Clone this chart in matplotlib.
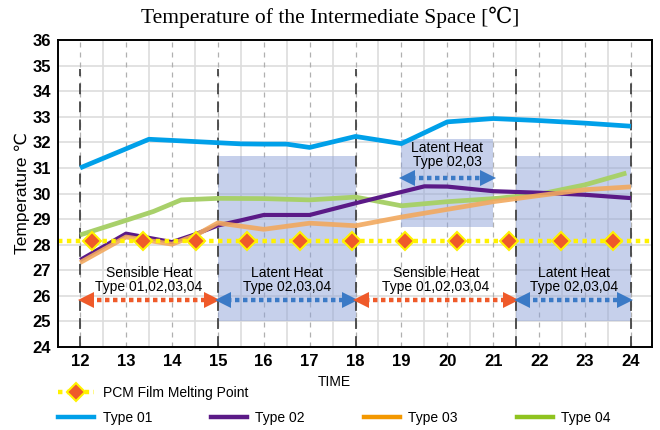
import numpy as np
import matplotlib
matplotlib.use("Agg")
import matplotlib.pyplot as plt
from matplotlib.lines import Line2D

plt.rcParams["font.family"] = ["Liberation Sans", "DejaVu Sans"]

# data
t01 = [12, 13.5, 14.5, 15.5, 16, 16.5, 17, 18, 19, 20, 21, 22, 23, 24]
type01 = [31.0, 32.12, 32.03, 31.94, 31.93, 31.93, 31.8, 32.23, 31.95, 32.8, 32.93, 32.85, 32.75, 32.63]

t02 = [12, 13, 14, 14.5, 15, 15.5, 16, 17, 18, 19.5, 20, 21, 22, 23, 24]
type02 = [27.4, 28.43, 28.1, 28.4, 28.75, 28.95, 29.16, 29.16, 29.62, 30.28, 30.27, 30.09, 30.03, 29.95, 29.82]

t03 = [12, 13, 14, 14.5, 15, 16, 17, 18, 19, 20, 21, 22, 23, 24]
type03 = [27.3, 28.3, 28.02, 28.35, 28.85, 28.6, 28.84, 28.74, 29.08, 29.38, 29.68, 29.92, 30.15, 30.26]

t04 = [12, 13, 13.6, 14.2, 15, 16, 17, 18, 19, 20, 21, 22, 23, 23.9]
type04 = [28.38, 28.95, 29.3, 29.75, 29.81, 29.8, 29.75, 29.86, 29.52, 29.68, 29.8, 29.97, 30.34, 30.8]

melt_point = 28.15
melt_marks = [12.25, 13.37, 14.53, 15.64, 16.79, 17.93, 19.08, 20.21, 21.35, 22.48, 23.61]

# phases: (start, end, label)
phases = [(12, 15, "Sensible Heat\nType 01,02,03,04"),
          (15, 18, "Latent Heat\nType 02,03,04"),
          (18, 21.5, "Sensible Heat\nType 01,02,03,04"),
          (21.5, 24, "Latent Heat\nType 02,03,04")]
boundaries = [12, 15, 18, 21.5, 24]
extra_latent = (19, 21, "Latent Heat\nType 02,03")

xticks = list(range(12, 25))
yticks = list(range(24, 37))

c01 = "#00a0e9"
c02 = "#5b1a87"
c03 = "#f39800"
c04 = "#8fc31f"
red = "#ef5a2a"
blue = "#3b7ac6"

fig = plt.figure(figsize=(6.6, 4.3), dpi=100)
ax = fig.add_axes([0.088, 0.193, 0.9, 0.714])
ax.set_xlim(11.52, 24.46)
ax.set_ylim(24, 36)

# grid
for x in np.arange(12.5, 24.5, 1.0):
    ax.axvline(x, color="#dddddd", lw=1.2, zorder=0)
for x in xticks:
    ax.axvline(x, color="#b0b0b0", lw=0.9, ls=(0, (4, 4)), zorder=0.5)
for y in yticks:
    ax.axhline(y, color="#dddddd", lw=1.2, zorder=0)

# shaded latent heat boxes
for s, e, lab in phases:
    if lab.startswith("Latent"):
        ax.fill_between([s, e], 25, 31.45, color="#8fa3d8", alpha=0.5, lw=0, zorder=1)
ax.fill_between([extra_latent[0], extra_latent[1]], 28.7, 32.12, color="#8fa3d8",
                alpha=0.5, lw=0, zorder=1)

for b in boundaries:
    ax.plot([b, b], [24, 34.85], color="#444444", lw=1.3, ls=(0, (6, 4)), zorder=1.5)

# data lines
ax.plot(t01, type01, color=c01, lw=3.4, zorder=5, solid_capstyle="butt")
ax.plot(t04, type04, color="#a8d06a", lw=3.4, zorder=4, solid_capstyle="butt")
ax.plot(t03, type03, color="#f2a95e", lw=3.4, zorder=4.5, alpha=0.9, solid_capstyle="butt")
ax.plot(t02, type02, color=c02, lw=3.0, zorder=4.2, solid_capstyle="butt")

# melting point
ax.axhline(melt_point, color="#fff200", lw=3.2, ls=(0, (1, 1)), zorder=6)
ax.plot(melt_marks, [melt_point] * len(melt_marks), ls="none", marker="D",
        ms=9, mfc=red, mec="#fff200", mew=1.5, zorder=7)

# phase arrows and labels
def arrow(s, e, y, col):
    ax.plot([s + 0.2, e - 0.2], [y, y], color=col, lw=3.2, ls=(0, (1, 0.8)), zorder=6)
    ax.plot([s + 0.12], [y], marker="<", ms=11, color=col, mew=0, zorder=6)
    ax.plot([e - 0.12], [y], marker=">", ms=11, color=col, mew=0, zorder=6)

for s, e, lab in phases:
    col = red if lab.startswith("Sensible") else blue
    arrow(s, e, 25.85, col)
    ax.text((s + e) / 2, 26.62, lab, ha="center", va="center", fontsize=10,
            linespacing=1.0, zorder=8)
arrow(extra_latent[0], extra_latent[1], 30.6, blue)
ax.text(20, 31.5, extra_latent[2], ha="center", va="center", fontsize=10,
        linespacing=1.0, zorder=8)

ax.set_xticks(xticks)
ax.set_yticks(yticks)
ax.tick_params(length=0, pad=5, labelsize=12)
for lb in ax.get_xticklabels() + ax.get_yticklabels():
    lb.set_fontweight("bold")
for sp in ax.spines.values():
    sp.set_linewidth(1.4)
    sp.set_zorder(10)

ax.set_xlabel("TIME", fontsize=10)
ax.xaxis.set_label_coords(0.465, -0.09)
ax.set_ylabel("Temperature ℃", fontsize=12.5)
ax.yaxis.set_label_coords(-0.047, 0.5)

fig.text(0.5, 0.96, "Temperature of the Intermediate Space [℃]", ha="center", va="center",
         fontsize=15.5, family=["Liberation Serif", "DejaVu Serif"])

# legends
h_melt = Line2D([], [], color="#fff200", lw=3.2, ls=(0, (1, 1)), marker="D", ms=9,
                mfc=red, mec="#fff200", mew=1.5)
fig.legend([h_melt], ["PCM Film Melting Point"], loc="center left",
           bbox_to_anchor=(0.088, 0.086), frameon=False, fontsize=10,
           handlelength=2.6, handletextpad=0.6, borderpad=0, borderaxespad=0)
hs = [Line2D([], [], color=c, lw=3.2) for c in (c01, c02, c03, c04)]
fig.legend(hs, ["Type 01", "Type 02", "Type 03", "Type 04"], loc="center left",
           bbox_to_anchor=(0.088, 0.028), ncol=4, frameon=False, fontsize=10,
           handlelength=2.6, handletextpad=0.6, columnspacing=4.25,
           borderpad=0, borderaxespad=0)

fig.savefig("out.png", dpi=100)
